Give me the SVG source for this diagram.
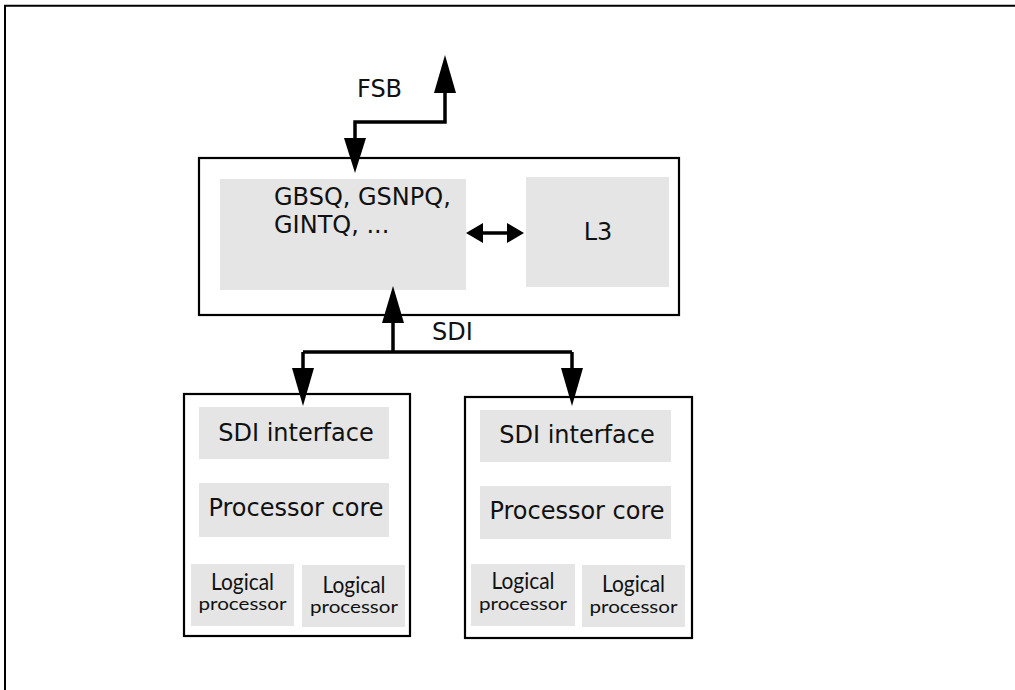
<svg xmlns="http://www.w3.org/2000/svg" width="1015" height="690" viewBox="0 0 1015 690">
<style>
.frame{fill:none;stroke:#000;stroke-width:2}
.box{fill:#fff;stroke:#000;stroke-width:2.2}
.blk{fill:#e5e5e5;stroke:none}
.t{font-family:"DejaVu Sans",Verdana,sans-serif;font-size:24px;fill:#111}
.tc{text-anchor:middle}
.lg{font-family:Lato,"Open Sans",sans-serif;font-size:23px;fill:#111;text-anchor:middle}
.lp{font-family:Lato,"Open Sans",sans-serif;font-size:17px;fill:#111;text-anchor:middle}
.wire{fill:none;stroke:#000;stroke-width:3.5}
.head{fill:#000;stroke:none}
</style>
<rect width="1015" height="690" fill="#fff"/>
<path class="frame" d="M5,690 V5.7 H1015"/>

<g id="uncore">
<rect class="box" x="199" y="158" width="480" height="157"/>
<g id="queues">
<rect class="blk" x="220" y="179" width="246" height="111"/>
<text class="t" x="274" y="205">GBSQ, GSNPQ,</text>
<text class="t" x="274" y="233">GINTQ, ...</text>
</g>
<g id="l3">
<rect class="blk" x="526" y="177" width="143" height="110"/>
<text class="t tc" x="598" y="240">L3</text>
</g>
</g>

<g id="core1">
<rect class="box" x="184" y="394" width="226" height="242"/>
<rect class="blk" x="199" y="407" width="190" height="52"/>
<text class="t tc" x="296" y="441">SDI interface</text>
<rect class="blk" x="199" y="483" width="190" height="54"/>
<text class="t tc" x="296" y="516">Processor core</text>
<g id="lp1a">
<rect class="blk" x="191" y="564" width="103" height="62"/>
<text class="lg" x="242.5" y="590" textLength="63" lengthAdjust="spacingAndGlyphs">Logical</text>
<text class="lp" x="242.5" y="610" textLength="88" lengthAdjust="spacingAndGlyphs">processor</text>
</g>
<g id="lp1b">
<rect class="blk" x="302" y="565" width="103" height="62"/>
<text class="lg" x="354" y="593" textLength="63" lengthAdjust="spacingAndGlyphs">Logical</text>
<text class="lp" x="354" y="613" textLength="88" lengthAdjust="spacingAndGlyphs">processor</text>
</g>
</g>

<g id="core2">
<rect class="box" x="465" y="397" width="227" height="241"/>
<rect class="blk" x="480" y="410" width="191" height="52"/>
<text class="t tc" x="577" y="443">SDI interface</text>
<rect class="blk" x="480" y="486" width="191" height="53"/>
<text class="t tc" x="577" y="519">Processor core</text>
<g id="lp2a">
<rect class="blk" x="471" y="564" width="104" height="62"/>
<text class="lg" x="523" y="589" textLength="63" lengthAdjust="spacingAndGlyphs">Logical</text>
<text class="lp" x="523" y="610" textLength="88" lengthAdjust="spacingAndGlyphs">processor</text>
</g>
<g id="lp2b">
<rect class="blk" x="582" y="565" width="103" height="62"/>
<text class="lg" x="633.5" y="592" textLength="63" lengthAdjust="spacingAndGlyphs">Logical</text>
<text class="lp" x="633.5" y="613" textLength="88" lengthAdjust="spacingAndGlyphs">processor</text>
</g>
</g>

<g id="connectors">
<path class="wire" d="M445,90 V122 H355 V140"/>
<polygon class="head" points="445,55 434,93 456,93"/>
<polygon class="head" points="355,173 344,138 366,138"/>
<text class="t" x="357" y="97">FSB</text>

<path class="wire" d="M482,233 H508"/>
<polygon class="head" points="466,233 483,223 483,243"/>
<polygon class="head" points="524,233 507,223 507,243"/>

<path class="wire" d="M393,320 V352 M303,352 H572 M303,352 V370 M572,352 V370"/>
<polygon class="head" points="393,286 382,323 404,323"/>
<polygon class="head" points="303,406 292,368 314,368"/>
<polygon class="head" points="572,406 561,368 583,368"/>
<text class="t" x="432" y="340">SDI</text>
</g>
</svg>
